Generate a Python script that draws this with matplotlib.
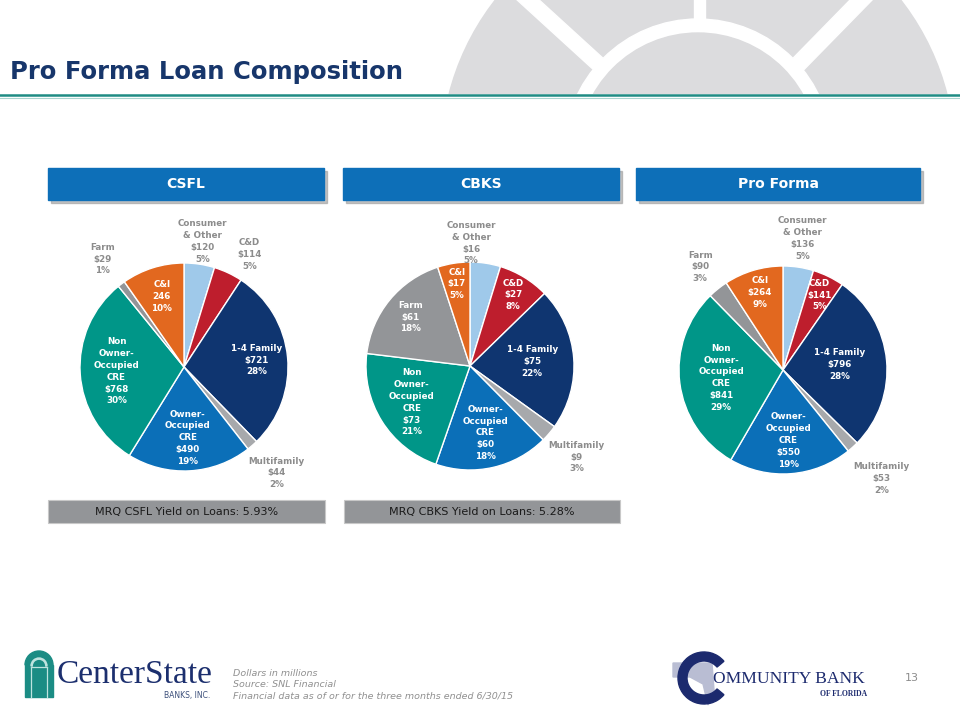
import numpy as np
import matplotlib.pyplot as plt
from matplotlib.patches import Rectangle, Circle, Polygon, Wedge

# Loan categories, clockwise from 12 o'clock
categories = ["Consumer\n& Other", "C&D", "1-4 Family", "Multifamily",
              "Owner-\nOccupied\nCRE", "Non\nOwner-\nOccupied\nCRE", "Farm", "C&I"]
slice_colors = ["#9fc9ea", "#be1e2d", "#0f3570", "#a7a9ac",
                "#0b6fb8", "#009688", "#939598", "#e2681f"]

# $ millions and shares as printed on the slide
csfl_amounts = [120, 114, 721, 44, 490, 768, 29, 246]
csfl_pcts = [5, 5, 28, 2, 19, 30, 1, 10]
cbks_amounts = [16, 27, 75, 9, 60, 73, 61, 17]
cbks_pcts = [5, 8, 22, 3, 18, 21, 18, 5]
proforma_amounts = [136, 141, 796, 53, 550, 841, 90, 264]
proforma_pcts = [5, 5, 28, 2, 19, 29, 3, 9]

yield_labels = ["MRQ CSFL Yield on Loans: 5.93%", "MRQ CBKS Yield on Loans: 5.28%"]
notes = ["Dollars in millions", "Source: SNL Financial",
         "Financial data as of or for the three months ended 6/30/15"]

NAVY = "#17366b"
GRAY_BG = "#dcdcde"

fig = plt.figure(figsize=(9.6, 7.2), dpi=100)
bg = fig.add_axes([0, 0, 1, 1])
bg.set_xlim(0, 960)
bg.set_ylim(720, 0)
bg.axis("off")

# decorative window graphic behind the title
clip = Rectangle((0, -5), 960, 99, transform=bg.transData)
deco = [
    Circle((698, 158), 257, color=GRAY_BG),
    Polygon([(515, -2), (537, -2), (640, 92), (618, 92)], color="white"),
    Polygon([(852, -2), (874, -2), (782, 92), (760, 92)], color="white"),
    Rectangle((694, -2), 11, 60, color="white"),
    Circle((698, 153), 134, color="white"),
    Circle((698, 153), 120, color=GRAY_BG),
]
for p in deco:
    bg.add_patch(p)
    p.set_clip_path(clip)

bg.axhline(95, color="#1f8c84", lw=1.8)
bg.axhline(97.5, color="#a9d4cf", lw=0.8)
bg.text(10, 79, "Pro Forma Loan Composition", fontsize=17.5, fontweight="bold",
        color=NAVY, va="baseline")


def header(x, w, title):
    bg.add_patch(Rectangle((x + 3, 171), w, 32, color="#9a9a9a", alpha=0.6))
    bg.add_patch(Rectangle((x, 168), w, 32, color="#0d6fb8"))
    bg.text(x + w / 2, 184, title, ha="center", va="center", fontsize=10,
            fontweight="bold", color="white")


def add_pie(cx, cy, amounts, pcts, inside, radii, shifts, plain=()):
    r_px = 104
    ax = fig.add_axes([(cx - 1.5 * r_px) / 960, (720 - cy - 1.5 * r_px) / 720,
                       3 * r_px / 960, 3 * r_px / 720])
    wedges, _ = ax.pie(amounts, colors=slice_colors, startangle=90, counterclock=False,
                       wedgeprops=dict(edgecolor="white", linewidth=1))
    ax.set_xlim(-1.5, 1.5)
    ax.set_ylim(-1.5, 1.5)
    ax.set_aspect("equal")
    ax.axis("off")
    for i, w in enumerate(wedges):
        ang = np.deg2rad((w.theta1 + w.theta2) / 2 + shifts[i])
        amt = f"{amounts[i]}" if i in plain else f"${amounts[i]}"
        ax.text(radii[i] * np.cos(ang), radii[i] * np.sin(ang),
                f"{categories[i]}\n{amt}\n{pcts[i]}%", ha="center", va="center",
                fontsize=6.3, fontweight="bold", linespacing=1.4,
                color="white" if inside[i] else "#8c8c8c")


header(48, 276, "CSFL")
header(343, 276, "CBKS")
header(636, 284, "Pro Forma")

add_pie(184, 367, csfl_amounts, csfl_pcts,
        [0, 0, 1, 0, 1, 1, 0, 1], [1.22, 1.25, 0.7, 1.35, 0.68, 0.65, 1.3, 0.71],
        [0, -5, 0, 0, 0, 0, 0, 0], plain=(7,))
add_pie(470, 366, cbks_amounts, cbks_pcts,
        [0, 1, 1, 0, 1, 1, 1, 1], [1.18, 0.8, 0.6, 1.35, 0.66, 0.66, 0.74, 0.8],
        [8, 0, 0, 0, 0, 0, 0, 0])
add_pie(783, 370, proforma_amounts, proforma_pcts,
        [0, 1, 1, 0, 1, 1, 0, 1], [1.28, 0.8, 0.55, 1.41, 0.68, 0.6, 1.27, 0.78],
        [0, 0, 0, 0, 0, 0, 0, 0])

# yield boxes
for x, w, txt in [(48, 277, yield_labels[0]), (344, 276, yield_labels[1])]:
    bg.add_patch(Rectangle((x, 500), w, 23, facecolor="#939598", edgecolor="#c8c8c8", lw=0.8))
    bg.text(x + w / 2, 511.5, txt, ha="center", va="center", fontsize=8, color="#1a1a1a")

# footnotes
for k, line in enumerate(notes):
    bg.text(233, 673 + 11.5 * k, line, fontsize=6.8, style="italic", color="#909090", va="center")
bg.text(905, 678, "13", fontsize=8, color="#8c8c8c", va="center")

# CenterState logo
bg.add_patch(Rectangle((25, 665), 28, 32, color="#1b8c84"))
bg.add_patch(Wedge((39, 665), 14, 180, 360, color="#1b8c84"))
bg.add_patch(Wedge((39, 666), 8, 180, 360, width=1.2, color="#bfe3df"))
for xv in (31, 47):
    bg.plot([xv, xv], [667, 697], color="#bfe3df", lw=0.9)
bg.plot([31, 47], [667, 667], color="#bfe3df", lw=0.9)
bg.text(57, 683, "CenterState", family="Liberation Serif", fontsize=24,
        color="#1c2f6e", va="baseline")
bg.text(210, 698, "BANKS, INC.", fontsize=5.5, color="#3c4f7a", ha="right", va="baseline")

# Community Bank logo
bg.add_patch(Polygon([(673, 663), (712, 663), (714, 690), (708, 705), (703, 684),
                      (690, 677), (673, 677)], color="#b9bdd3"))
bg.add_patch(Wedge((704, 678), 26, 40, 320, width=9, color="#1c2a6e"))
bg.text(713, 683, "OMMUNITY BANK", family="Liberation Serif", fontsize=12.6,
        color="#1c2a6e", va="baseline")
bg.text(867, 696, "OF FLORIDA", family="Liberation Serif", fontsize=5.5,
        fontweight="bold", color="#1c2a6e", ha="right", va="baseline")

fig.savefig("out.png", dpi=100)
